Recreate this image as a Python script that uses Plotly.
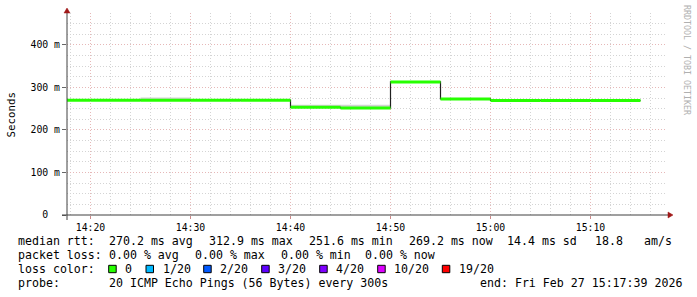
import plotly.graph_objects as go

# ---------------- data ----------------
DAY = "2026-02-27 "
seg_times = ["14:15", "14:20", "14:25", "14:30", "14:35", "14:40", "14:45",
             "14:50", "14:55", "15:00", "15:05", "15:10", "15:15"]
median_ms = [270.0, 270.0, 270.0, 270.0, 270.0, 253.3, 251.6,
             312.9, 273.0, 269.2, 269.2, 269.2]
smoke_hi_ms = [271.0, 271.0, 276.5, 271.0, 271.0, 259.5, 259.5,
               314.0, 274.0, 270.0, 270.0, 270.0]
smoke_lo_ms = [269.0, 269.0, 269.0, 269.0, 269.0, 252.0, 250.5,
               312.0, 272.0, 268.5, 268.5, 268.5]
x_start, x_end = DAY + "14:17:39", DAY + "15:17:39"

y_tick_vals = [0, 100, 200, 300, 400]
y_tick_text = ["0\u00a0\u00a0", "100\u00a0m", "200\u00a0m", "300\u00a0m", "400\u00a0m"]

loss_labels = ["0", "1/20", "2/20", "3/20", "4/20", "10/20", "19/20"]
loss_colors = ["#26ff00", "#00b8ff", "#0059ff", "#5e00ff", "#7e00ff", "#dd00ff", "#ff0000"]

row1 = ["median rtt:", "270.2 ms avg", "312.9 ms max", "251.6 ms min",
        "269.2 ms now", "14.4 ms sd", "18.8", "am/s"]
row2 = ["packet loss:", "0.00 % avg", "0.00 % max", "0.00 % min", "0.00 % now"]
row4 = ["probe:", "20 ICMP Echo Pings (56 Bytes) every 300s", "end: Fri Feb 27 15:17:39 2026"]

# ---------------- layout geometry (pixels) ----------------
W, H = 697, 297
L, R, T, B = 67, 30, 13, 82
PW, PH = W - L - R, H - T - B


def px(x):
    return (x - L) / PW


def py(y):
    return (H - B - y) / PH


row1_x = [16, 107, 207, 307, 407, 505, 593, 642]
row2_x = [16, 107, 193, 279, 363]
row4_x = [16, 107, 478]
row_y = [241, 255, 269, 283]
sq_x = [108.7, 146, 203.7, 261.7, 319.7, 377.7, 442.3]
lab_x = [123.3, 160.7, 218, 276, 334, 392.3, 456.7]

MONO = "DejaVu Sans Mono"
times = [DAY + t for t in seg_times]

fig = go.Figure()

# smoke (grey band)
fig.add_trace(go.Scatter(x=times, y=smoke_lo_ms + [smoke_lo_ms[-1]], mode="lines",
                         line=dict(width=0, shape="hv"), hoverinfo="skip", showlegend=False))
fig.add_trace(go.Scatter(x=times, y=smoke_hi_ms + [smoke_hi_ms[-1]], mode="lines",
                         line=dict(width=0, shape="hv"), fill="tonexty",
                         fillcolor="#d2d2d2", hoverinfo="skip", showlegend=False))
# dark median step line
fig.add_trace(go.Scatter(x=times, y=median_ms + [median_ms[-1]], mode="lines",
                         line=dict(width=1.2, shape="hv", color="#202020"),
                         hoverinfo="skip", showlegend=False))
# coloured median segments (loss 0 -> green)
gx, gy = [], []
for i, v in enumerate(median_ms):
    gx += [times[i], times[i + 1], None]
    gy += [v, v, None]
fig.add_trace(go.Scatter(x=gx, y=gy, mode="lines",
                         line=dict(width=3, color=loss_colors[0]),
                         hoverinfo="skip", showlegend=False))

grid_major = "#e6b8b8"
grid_minor = "#d4d4d4"
fig.update_xaxes(range=[x_start, x_end], type="date", tickformat="%H:%M",
                 tick0=DAY + "14:20", dtick=600000,
                 showgrid=True, gridcolor=grid_major, gridwidth=1, griddash="1px,2px",
                 minor=dict(dtick=120000, showgrid=True, gridcolor=grid_minor,
                            griddash="1px,2px", gridwidth=1),
                 ticks="outside", ticklen=3, tickcolor="#cc8888",
                 tickfont=dict(family=MONO, size=9.8, color="#000"),
                 showline=False, zeroline=False, fixedrange=True)
fig.update_yaxes(range=[0, 475], tickvals=y_tick_vals, ticktext=y_tick_text,
                 showgrid=True, gridcolor=grid_major, gridwidth=1, griddash="1px,2px",
                 minor=dict(dtick=25, tick0=0, showgrid=True, gridcolor=grid_minor,
                            griddash="1px,2px", gridwidth=1),
                 ticks="outside", ticklen=4, tickcolor="#666",
                 tickfont=dict(family=MONO, size=9.8, color="#000"),
                 showline=False, zeroline=False, fixedrange=True)

shapes = []
AX = "#404040"
ARROW = "#a01818"
# x axis line + arrow
shapes.append(dict(type="line", xref="paper", yref="paper", x0=px(62), x1=px(669),
                   y0=0, y1=0, line=dict(color=AX, width=1)))
shapes.append(dict(type="path", xref="paper", yref="paper",
                   path=f"M {px(668)} {py(212)} L {px(673)} {py(215)} L {px(668)} {py(218)} Z",
                   fillcolor=ARROW, line=dict(color=ARROW, width=0.5)))
# y axis line + arrow
shapes.append(dict(type="line", xref="paper", yref="paper", x0=0, x1=0,
                   y0=py(220), y1=py(11), line=dict(color=AX, width=1)))
shapes.append(dict(type="path", xref="paper", yref="paper",
                   path=f"M {px(64)} {py(13)} L {px(67)} {py(8)} L {px(70)} {py(13)} Z",
                   fillcolor=ARROW, line=dict(color=ARROW, width=0.5)))
# loss colour boxes
for sx, c in zip(sq_x, loss_colors):
    shapes.append(dict(type="rect", xref="paper", yref="paper",
                       x0=px(sx), x1=px(sx + 7.5), y0=py(265.3), y1=py(272.7),
                       fillcolor=c, line=dict(color="#000", width=1)))

ann = []


def txt(x, y, s, size=11.6, color="#000", **kw):
    ann.append(dict(xref="paper", yref="paper", x=px(x), y=py(y),
                    text=s.replace(" ", "\u00a0"), showarrow=False,
                    xanchor=kw.pop("xanchor", "left"), yanchor="middle",
                    font=dict(family=MONO, size=size, color=color), **kw))


for x, s in zip(row1_x, row1):
    txt(x, row_y[0], s)
for x, s in zip(row2_x, row2):
    txt(x, row_y[1], s)
txt(16, row_y[2], "loss color:")
for x, s in zip(lab_x, loss_labels):
    txt(x, row_y[2], s)
for x, s in zip(row4_x, row4):
    txt(x, row_y[3], s)

txt(10.5, 115, "Seconds", size=10.8, textangle=-90, xanchor="center")
txt(687, 60, "RRDTOOL / TOBI OETIKER", size=8.3, color="#b0b0b0",
    textangle=90, xanchor="center")

fig.update_layout(width=W, height=H, margin=dict(l=L, r=R, t=T, b=B, pad=0),
                  paper_bgcolor="#ffffff", plot_bgcolor="#ffffff",
                  shapes=shapes, annotations=ann, showlegend=False,
                  font=dict(family=MONO, color="#000"))

fig.write_html("out.html")
